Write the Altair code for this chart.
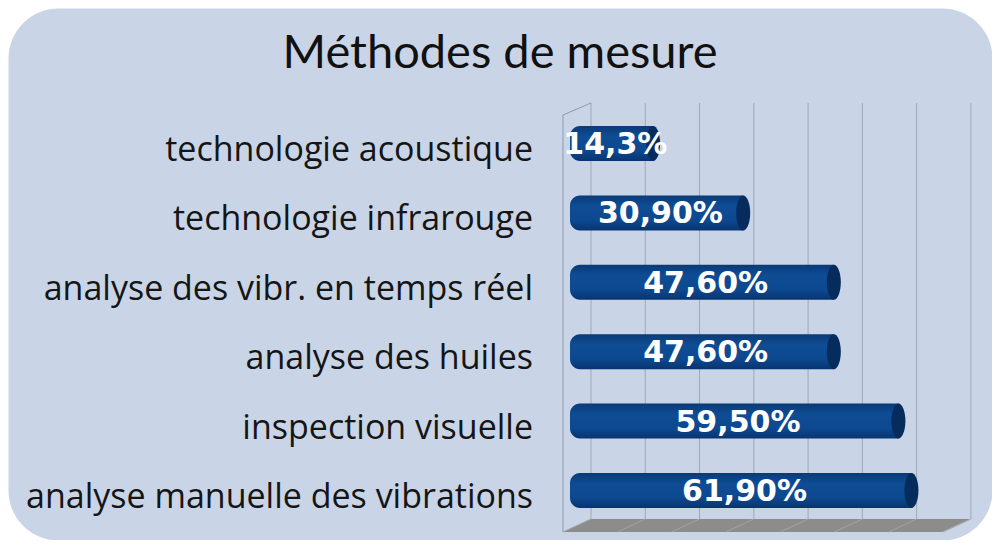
import altair as alt
import pandas as pd

title_text = "Méthodes de mesure"
categories = [
    "technologie acoustique",
    "technologie infrarouge",
    "analyse des vibr. en temps réel",
    "analyse des huiles",
    "inspection visuelle",
    "analyse manuelle des vibrations",
]
values = [14.3, 30.9, 47.6, 47.6, 59.5, 61.9]
value_labels = ["14,3%", "30,90%", "47,60%", "47,60%", "59,50%", "61,90%"]
grid_ticks = [0, 10, 20, 30, 40, 50, 60, 70]

df = pd.DataFrame({"cat": categories, "value": values, "lab": value_labels})
df_grid = pd.DataFrame({"t": grid_ticks})
df_one = pd.DataFrame({"k": [0]})
df_title = pd.DataFrame({"title": [title_text]})

xscale = alt.Scale(domain=[0, 70], range=[574.5, 954.4], nice=False, zero=False)
yscale = alt.Scale(type="point", domain=categories, range=[135.5, 482.5], padding=0)

X = lambda f: alt.X(f, scale=xscale, axis=None)
Y = alt.Y("cat:N", scale=yscale, axis=None, sort=categories)

grid = alt.Chart(df_grid).mark_rule(xOffset=8.5, color="#9ea9b9", strokeWidth=1).encode(
    x=X("t:Q"), y=alt.value(95), y2=alt.value(511)
)

floor_path = "M -1 0.0319 L -0.862 -0.0319 L 1 -0.0319 L 0.862 0.0319 Z"
floor = alt.Chart(df_one).mark_point(
    shape=floor_path, filled=True, fill="#8c8c8c", opacity=1, strokeWidth=0, size=407 * 407
).encode(x=alt.value(758.5), y=alt.value(517.5))

floor_lines = alt.Chart(df_grid).mark_rule(
    xOffset=8.5, x2Offset=-19.5, color="#a3a3a3", strokeWidth=1
).encode(x=X("t:Q"), x2="t:Q", y=alt.value(511), y2=alt.value(524))

wall_v = alt.Chart(df_one).mark_rule(color="#8f9aab", strokeWidth=1).encode(
    x=alt.value(555), y=alt.value(107), y2=alt.value(524)
)
wall_d = alt.Chart(df_one).mark_rule(color="#8f9aab", strokeWidth=1).encode(
    x=alt.value(555), x2=alt.value(583), y=alt.value(107), y2=alt.value(95)
)

grad = alt.Gradient(
    gradient="linear",
    stops=[
        alt.GradientStop(color="#0a3a76", offset=0),
        alt.GradientStop(color="#0e4c94", offset=0.3),
        alt.GradientStop(color="#0d4990", offset=0.7),
        alt.GradientStop(color="#083470", offset=1),
    ],
    x1=0, x2=0, y1=0, y2=1,
)

bars = alt.Chart(df).mark_bar(
    size=35, xOffset=-12.5, x2Offset=-7, color=grad,
    cornerRadiusTopLeft=10, cornerRadiusBottomLeft=10,
).encode(x=X("zero:Q"), x2="value:Q", y=Y).transform_calculate(zero="0")

ellipse = "M 0 -1 A 0.4 1 0 0 1 0 1 A 0.4 1 0 0 1 0 -1 Z"
caps = alt.Chart(df).mark_point(
    shape=ellipse, filled=True, fill="#062c5e", opacity=1, strokeWidth=0, size=35 * 35, xOffset=-7
).encode(x=X("value:Q"), y=Y)

bar_text = alt.Chart(df).mark_text(
    color="white", font="DejaVu Sans", fontWeight="bold", fontSize=30,
    align="center", baseline="alphabetic", dy=10.5, xOffset=-6,
).encode(x=X("mid:Q"), y=Y, text="lab:N").transform_calculate(mid="datum.value / 2")

cat_text = alt.Chart(df).mark_text(
    color="#151515", font="Open Sans", fontSize=34, align="right", baseline="alphabetic", dy=17.5,
).encode(x=alt.value(525), y=Y, text="cat:N")

title = alt.Chart(df_title).mark_text(
    color="#111111", font="Lato", fontSize=47, align="center", baseline="alphabetic",
).encode(x=alt.value(492), y=alt.value(60), text="title:N")

chart = alt.layer(
    grid, floor, floor_lines, wall_v, wall_d, bars, caps, bar_text, cat_text, title
).properties(
    width=984,
    height=532,
    padding=0,
    autosize=alt.AutoSizeParams(type="none"),
    background="white",
).configure_view(fill="#c9d5e7", stroke="transparent", cornerRadius=50)

chart.save("out.html", embed_options={"renderer": "svg", "actions": False})
